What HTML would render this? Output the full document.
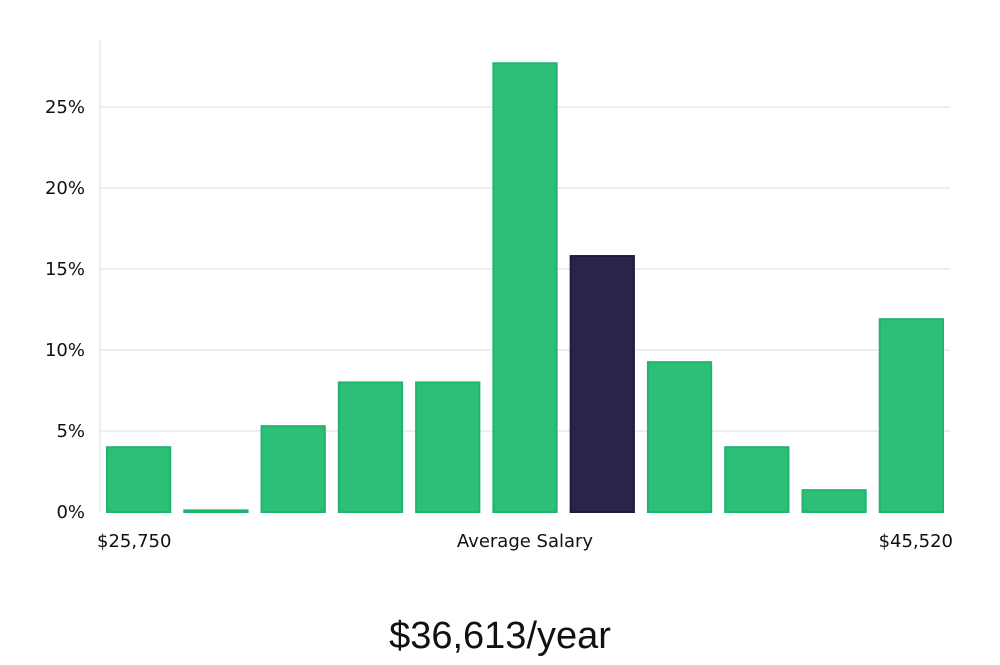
<!DOCTYPE html>
<html><head><meta charset="utf-8"><style>
body{margin:0;background:#fff;width:1000px;height:660px;overflow:hidden}
svg text{font-family:"DejaVu Sans","Liberation Sans",sans-serif;fill:#111}
</style></head><body>
<svg id="c" width="1000" height="660"></svg>
<script>
const categories=["b1","b2","b3","b4","b5","b6","b7","b8","b9","b10","b11"];
const values=[4.0,0.1,5.3,8.0,8.0,27.7,15.8,9.25,4.0,1.35,11.9];
const highlight=[false,false,false,false,false,false,true,false,false,false,false];
const yTicks=[0,5,10,15,20,25];
const yTickLabels=["0%","5%","10%","15%","20%","25%"];
const svg=document.getElementById('c');
const NS='http://www.w3.org/2000/svg';
const x0=100,x1=950,yBase=512,pxPer=16.2;
const y=v=>yBase-v*pxPer;
const band=(x1-x0)/categories.length;
function mk(t,a){const e=document.createElementNS(NS,t);for(const k in a)e.setAttribute(k,a[k]);svg.appendChild(e);return e;}
yTicks.forEach((t,i)=>{
 if(t>0){const g=mk('line',{x1:x0,x2:x1,y1:y(t),y2:y(t),stroke:'#ddd','stroke-width':1});
 
 }
 const l=mk('text',{x:85,y:y(t)+6,'text-anchor':'end','font-size':18});
 l.textContent=yTickLabels[i];
 
 
});
const ax=mk('line',{x1:x0,x2:x0,y1:40,y2:yBase,stroke:'#ddd','stroke-width':1});


values.forEach((v,i)=>{
 const bx=x0+i*band+7;
 const r=mk('rect',{x:bx,y:y(v),width:band-14,height:Math.max(v*pxPer,1),
  fill:highlight[i]?'#29254a':'#2bbf78',stroke:highlight[i]?'#1e1a40':'#22b36f','stroke-width':2});
 
 
});
[[97,'start','$25,750','x-min-label'],[525,'middle','Average Salary','x-axis-title'],[953,'end','$45,520','x-max-label']].forEach(d=>{
 const t=mk('text',{x:d[0],y:547,'text-anchor':d[1],'font-size':18});
 t.textContent=d[2];
 
 
});
const tt=mk('text',{x:500,y:648,'text-anchor':'middle','font-size':38,'font-weight':300});
tt.style.fontFamily='"Liberation Sans",sans-serif';
tt.textContent='$36,613/year';


</script>
</body></html>
